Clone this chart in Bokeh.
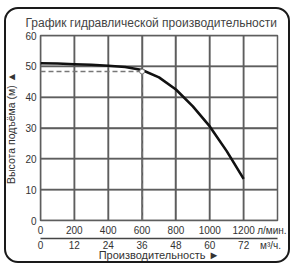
from bokeh.plotting import figure
from bokeh.models import Range1d, LinearAxis, InlineStyleSheet
from bokeh.embed import file_html
from bokeh.resources import INLINE

# data
flow_lpm = [0, 100, 200, 300, 400, 500, 600, 700, 800, 900, 1000, 1100, 1200]
head_m = [51.0, 50.9, 50.7, 50.5, 50.2, 49.8, 48.8, 46.4, 42.5, 37.0, 30.5, 22.5, 13.5]
op_flow = 600
op_head = 48.3
lpm_ticks = [0, 200, 400, 600, 800, 1000, 1200]
m3h_ticks = [0, 12, 24, 36, 48, 60, 72]
head_ticks = [0, 10, 20, 30, 40, 50, 60]
title_text = "График гидравлической производительности"
y_label = "Высота подъёма (м) ▲"
x_label = "Производительность ►"
unit_lpm = "л/мин."
unit_m3h = "м³/ч."

X_MAX = 1400
Y_MAX = 60
GRID = "#5e5e5e"
TXT = "#333333"
PAD = "\u00a0"

p = figure(width=300, height=273, output_backend="svg", toolbar_location=None,
           x_range=Range1d(0, X_MAX), y_range=Range1d(0, Y_MAX),
           min_border_left=40, min_border_right=23, min_border_top=35, min_border_bottom=53)
p.outline_line_color = GRID
p.outline_line_width = 1.5
p.xgrid.grid_line_color = GRID
p.ygrid.grid_line_color = GRID
p.xgrid.grid_line_width = 1.5
p.ygrid.grid_line_width = 1.5

# grid drawn also as glyphs so it always shows
p.segment(x0=lpm_ticks, y0=[0] * len(lpm_ticks), x1=lpm_ticks, y1=[Y_MAX] * len(lpm_ticks),
          line_color=GRID, line_width=1.5)
p.segment(x0=[0] * len(head_ticks), y0=head_ticks, x1=[X_MAX] * len(head_ticks), y1=head_ticks,
          line_color=GRID, line_width=1.5)

# title
p.title.text = title_text
p.title.text_font_size = "12px"
p.title.text_font_style = "normal"
p.title.text_color = "#444444"
p.title.align = "left"
p.title.offset = -15
p.title.standoff = 12

# y axis
ya = p.yaxis[0]
ya.axis_line_color = None
ya.major_tick_line_color = None
ya.minor_tick_line_color = None
ya.major_tick_out = 0
ya.major_tick_in = 0
ya.minor_tick_out = 0
ya.major_label_text_font_size = "10px"
ya.major_label_text_color = TXT
ya.major_label_standoff = 4
ya.axis_label = y_label
ya.axis_label_text_font_size = "10.5px"
ya.axis_label_text_font_style = "normal"
ya.axis_label_text_color = TXT
ya.axis_label_standoff = 5

# x axis (l/min); the unit caption sits at the end of the scale
xa = p.xaxis[0]
xa.major_label_overrides = {X_MAX: unit_lpm + PAD * 4}
xa.axis_line_color = None
xa.major_tick_line_color = None
xa.minor_tick_line_color = None
xa.major_tick_out = 0
xa.major_tick_in = 0
xa.minor_tick_out = 0
xa.major_label_text_font_size = "10px"
xa.major_label_text_color = TXT
xa.major_label_standoff = 4

# second x axis (m3/h) labelled at the same flow positions
m3h_labels = {lpm: str(m3) for lpm, m3 in zip(lpm_ticks, m3h_ticks)}
m3h_labels[X_MAX] = unit_m3h + PAD * 5
xb = LinearAxis()
xb.major_label_overrides = m3h_labels
xb.axis_line_color = "#444444"
xb.axis_line_width = 1.5
xb.major_tick_line_color = None
xb.minor_tick_line_color = None
xb.major_tick_out = 0
xb.major_tick_in = 0
xb.minor_tick_out = 0
xb.major_label_text_font_size = "10px"
xb.major_label_text_color = TXT
xb.major_label_standoff = 1
xb.axis_label = x_label
xb.axis_label_text_font_size = "11px"
xb.axis_label_text_font_style = "normal"
xb.axis_label_text_color = TXT
xb.axis_label_standoff = -5
p.add_layout(xb, "below")

# operating point dashed lines
p.line([op_flow, op_flow], [op_head, 0], line_color="#777777", line_dash="5 3", line_width=1.5)
p.line([0, op_flow], [op_head, op_head], line_color="#777777", line_dash="5 3", line_width=1.5)

# curve
p.line(flow_lpm, head_m, line_color="#111111", line_width=2.6)
p.scatter([op_flow], [op_head], size=5, fill_color="white", line_color="#777777", line_width=1)

# outer rounded frame
p.stylesheets = [InlineStyleSheet(css=(
    ":host::after { content: ''; position: absolute; left: 4px; top: 7px; width: 286px; height: 256px;"
    " box-sizing: border-box; border: 2px solid #1a1a1a; border-radius: 14px; pointer-events: none; }"))]

open("out.html", "w").write(file_html(p, INLINE))
